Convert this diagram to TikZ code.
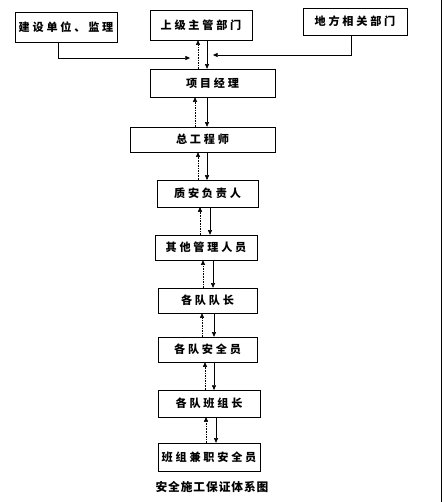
\documentclass[tikz,border=0pt]{standalone}
\usepackage{fontspec}
\newfontfamily\cjk[LetterSpace=25]{Noto Sans CJK SC}
\newfontfamily\cjkcap[LetterSpace=8]{Noto Sans CJK SC}
\usepackage{tikz}
\usetikzlibrary{arrows.meta,positioning}
\tikzset{
    unit/.style={rectangle, draw, thin, minimum width=3.06cm, minimum height=0.8cm, inner sep=0pt, font=\cjk\fontsize{9.5}{10}\selectfont\bfseries},
    down/.style={-{Triangle[length=4pt, width=3.5pt]}, thin},
    up/.style={-{Triangle[length=4pt, width=3.5pt]}, thin, densely dotted},
    caption/.style={font=\cjkcap\fontsize{10}{11}\selectfont\bfseries},
}

\begin{document}
\begin{tikzpicture}[x=0.03cm, y=-0.03cm]
    \useasboundingbox (0,0) rectangle (443,502);
    \draw[thin] (441.5,0) -- (441.5,502);

    % top units
    \node[unit, minimum height=0.9cm] (jsdw) at (66,27) {建设单位、监理};
    \node[unit, minimum height=0.9cm] (sjzg) at (201,25) {上级主管部门};
    \node[unit, minimum width=3.12cm] (dfxg) at (355,21.5) {地方相关部门};

    % main chain
    \node[unit, minimum width=3.75cm, minimum height=0.84cm] (xmjl) at (212.5,83) {项目经理};
    \node[unit, minimum width=4.35cm, minimum height=0.75cm] (zgcs) at (202.5,139.5) {总工程师};
    \node[unit, minimum width=3.03cm] (zafz) at (207.5,193.5) {质安负责人};
    \node[unit, minimum height=0.75cm] (qtgl) at (206,247.5) {其他管理人员};
    \node[unit, minimum width=2.97cm, minimum height=0.75cm] (gddz) at (207.5,300.5) {各队队长};
    \node[unit, minimum width=2.97cm, minimum height=0.75cm] (gdaq) at (207.5,349.5) {各队安全员};
    \node[unit] (gdbz) at (209,403.5) {各队班组长};
    \node[unit, minimum height=0.84cm] (bzjz) at (209,457) {班组兼职安全员};
    \node[caption] (title) at (212,487) {安全施工保证体系图};

    \coordinate (jin) at (190,58);
    \coordinate (din) at (213,55);

    \draw[down] (jsdw.south -| 58,0) |- (jin);
    \draw[down] (dfxg.south -| 351,0) |- (din);
    \draw[up] (xmjl.north -| 198,0) -- (sjzg.south -| 198,0);
    \draw[down] (sjzg.south -| 207,0) -- (xmjl.north -| 207,0);

    \draw[up] (zgcs.north -| 195,0) -- (xmjl.south -| 195,0);
    \draw[down] (xmjl.south -| 207,0) -- (zgcs.north -| 207,0);
    \draw[up] (zafz.north -| 198,0) -- (zgcs.south -| 198,0);
    \draw[down] (zgcs.south -| 207,0) -- (zafz.north -| 207,0);
    \draw[up] (qtgl.north -| 200,0) -- (zafz.south -| 200,0);
    \draw[down] (zafz.south -| 210,0) -- (qtgl.north -| 210,0);
    \draw[up] (gddz.north -| 203,0) -- (qtgl.south -| 203,0);
    \draw[down] (qtgl.south -| 213,0) -- (gddz.north -| 213,0);
    \draw[up] (gdaq.north -| 202,0) -- (gddz.south -| 202,0);
    \draw[down] (gddz.south -| 214,0) -- (gdaq.north -| 214,0);
    \draw[up] (gdbz.north -| 205,0) -- (gdaq.south -| 205,0);
    \draw[down] (gdaq.south -| 214,0) -- (gdbz.north -| 214,0);
    \draw[up] (bzjz.north -| 206,0) -- (gdbz.south -| 206,0);
    \draw[down] (gdbz.south -| 216,0) -- (bzjz.north -| 216,0);
\end{tikzpicture}
\end{document}
